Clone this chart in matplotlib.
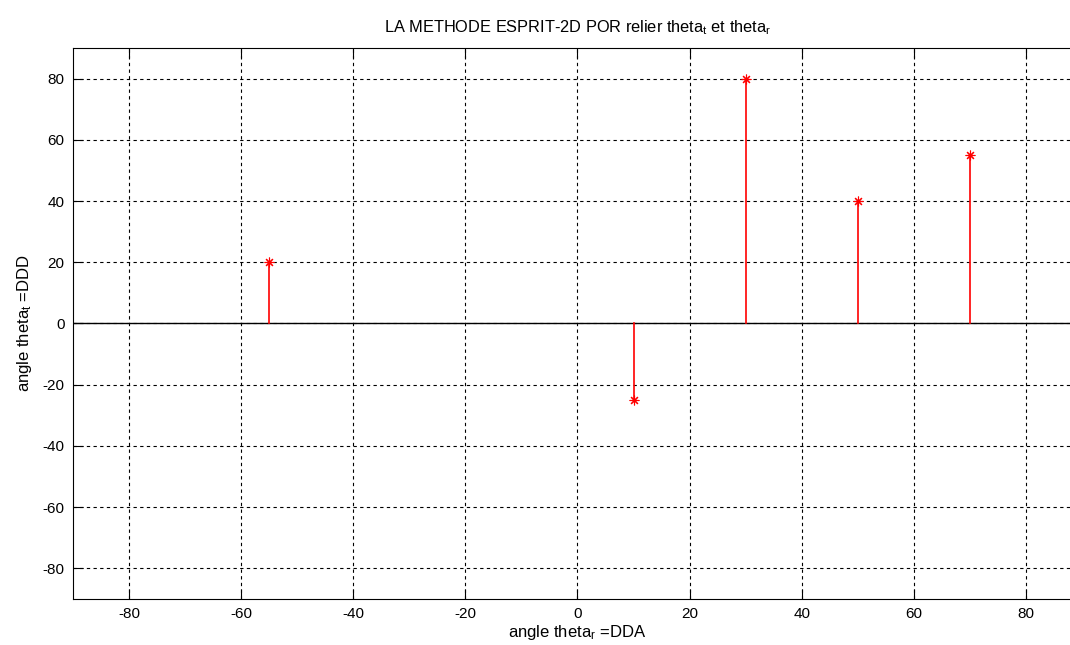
import matplotlib
matplotlib.use("Agg")
import matplotlib.pyplot as plt

plt.rcParams['font.family'] = ['Liberation Sans', 'DejaVu Sans']
plt.rcParams['mathtext.fontset'] = 'custom'
plt.rcParams['mathtext.rm'] = 'Liberation Sans'
plt.rcParams['mathtext.it'] = 'Liberation Sans'
plt.rcParams['mathtext.default'] = 'regular'
plt.rcParams['axes.unicode_minus'] = False

theta_r = [-55, 10, 30, 50, 70]
theta_t = [20, -25, 80, 40, 55]
ticks = [-80, -60, -40, -20, 0, 20, 40, 60, 80]

fig = plt.figure(figsize=(10.7, 6.45), dpi=100)
# the right part of the axes runs past the edge of the picture
ax = fig.add_axes([0.0682, 0.0713, 0.943, 0.8543])

ax.axhline(0, color='black', lw=1.0, zorder=2)
for x, y in zip(theta_r, theta_t):
    ax.plot([x, x], [0, y], color='red', lw=1.2, zorder=3)
ax.plot(theta_r, theta_t, ls='none', marker=(8, 2, 0), color='red',
        ms=7, mew=0.8, zorder=4)

ax.set_xlim(-90, 90)
ax.set_ylim(-90, 90)
ax.set_xticks(ticks)
ax.set_yticks(ticks)
ax.grid(True, color='black', ls=(0, (3, 3)), lw=0.8)
ax.tick_params(direction='in', length=7, labelsize=11, top=True, right=True,
               pad=6)

ax.set_title(r'LA METHODE ESPRIT-2D POR relier theta$_t$ et theta$_r$', fontsize=11.8, pad=11)
ax.set_xlabel(r'angle theta$_r$ =DDA', fontsize=12, labelpad=1)
ax.set_ylabel(r'angle theta$_t$ =DDD', fontsize=12, labelpad=6)

fig.savefig('out.png', dpi=100)
